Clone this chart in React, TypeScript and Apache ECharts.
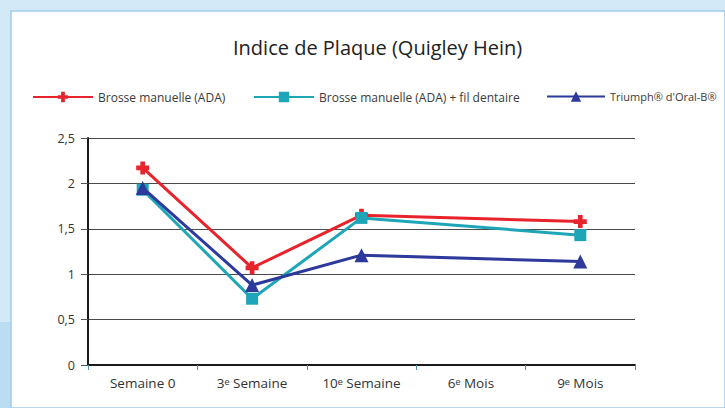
import React, { useEffect, useRef } from "react";
import * as echarts from "echarts";

const categories = ["Semaine 0", "3ᵉ Semaine", "10ᵉ Semaine", "6ᵉ Mois", "9ᵉ Mois"];
const seriesNames = [
  "Brosse manuelle (ADA)",
  "Brosse manuelle (ADA) + fil dentaire",
  "Triumph® d'Oral-B®",
];
const brosseValues = [2.17, 1.07, 1.65, null, 1.58];
const filValues = [1.93, 0.73, 1.62, null, 1.43];
const triumphValues = [1.95, 0.88, 1.21, null, 1.14];
const yTicks = [0, 0.5, 1, 1.5, 2, 2.5];
const colors = ["#e8232b", "#1ea5b8", "#2d3a9c"];

const plusPath = "path://M3.2,0 H6.8 V3.2 H10 V6.8 H6.8 V10 H3.2 V6.8 H0 V3.2 H3.2 Z";

export default function App() {
  const ref = useRef<HTMLDivElement>(null);
  useEffect(() => {
    if (!ref.current) return;
    const chart = echarts.init(ref.current, undefined, { renderer: "svg" });
    const font = "'Open Sans', 'Liberation Sans', sans-serif";
    const legendBase = {
      itemWidth: 60,
      itemHeight: 13,
      top: 91,
      padding: 0,
      textStyle: { fontFamily: font, fontSize: 12, color: "#3a3a3a" },
      selectedMode: false,
    };
    chart.setOption({
      animation: false,
      backgroundColor: "transparent",
      textStyle: { fontFamily: font },
      graphic: [
        { type: "rect", z: -100, shape: { x: 0, y: 0, width: 725, height: 408 }, style: { fill: "#d3e9f7" } },
        { type: "rect", z: -99, shape: { x: 0, y: 322, width: 11, height: 86 }, style: { fill: "#bcdcf2" } },
        { type: "rect", z: -98, shape: { x: 11, y: 11, width: 714, height: 397 }, style: { fill: "#ffffff", stroke: "#9fcbec", lineWidth: 1.5 } },
      ],
      title: {
        text: "Indice de Plaque (Quigley Hein)",
        left: 233,
        top: 37,
        padding: 0,
        textStyle: { fontFamily: font, fontSize: 20, fontWeight: "normal", color: "#222" },
      },
      legend: [
        { ...legendBase, left: 32, data: [seriesNames[0]] },
        { ...legendBase, left: 253, data: [seriesNames[1]] },
        {
          ...legendBase,
          left: 546,
          itemWidth: 58,
          data: [seriesNames[2]],
          textStyle: { fontFamily: font, fontSize: 11, color: "#3a3a3a" },
        },
      ],
      grid: { left: 88, right: 90, top: 138, bottom: 43 },
      xAxis: {
        type: "category",
        data: categories,
        boundaryGap: true,
        axisLine: { lineStyle: { color: "#1a1a1a", width: 2 } },
        axisTick: { show: true, length: 5, interval: 0, lineStyle: { color: "#4d8fb5" } },
        axisLabel: { fontFamily: font, fontSize: 13.5, color: "#333", margin: 11, interval: 0 },
      },
      yAxis: {
        type: "value",
        min: 0,
        max: 2.5,
        interval: 0.5,
        axisLine: { show: true, lineStyle: { color: "#1a1a1a", width: 2 } },
        axisTick: { show: true, length: 7, lineStyle: { color: "#555" } },
        splitLine: { lineStyle: { color: "#4a4a4a", width: 1 } },
        axisLabel: {
          fontFamily: font,
          fontSize: 12.5,
          color: "#333",
          margin: 13,
          formatter: (v: number) => (yTicks.includes(v) ? String(v).replace(".", ",") : ""),
        },
      },
      series: [
        {
          name: seriesNames[0],
          type: "line",
          data: brosseValues,
          connectNulls: true,
          symbol: plusPath,
          symbolSize: 13,
          lineStyle: { color: colors[0], width: 3 },
          itemStyle: { color: colors[0] },
          z: 3,
        },
        {
          name: seriesNames[1],
          type: "line",
          data: filValues,
          connectNulls: true,
          symbol: "rect",
          symbolSize: 12,
          lineStyle: { color: colors[1], width: 3 },
          itemStyle: { color: colors[1] },
          z: 4,
        },
        {
          name: seriesNames[2],
          type: "line",
          data: triumphValues,
          connectNulls: true,
          symbol: "triangle",
          symbolSize: 14,
          lineStyle: { color: colors[2], width: 3 },
          itemStyle: { color: colors[2] },
          z: 5,
        },
      ],
    });
    return () => chart.dispose();
  }, []);
  return (
    <div
      ref={ref}
      style={{ position: "absolute", left: 0, top: 0, width: 725, height: 408 }}
    />
  );
}
